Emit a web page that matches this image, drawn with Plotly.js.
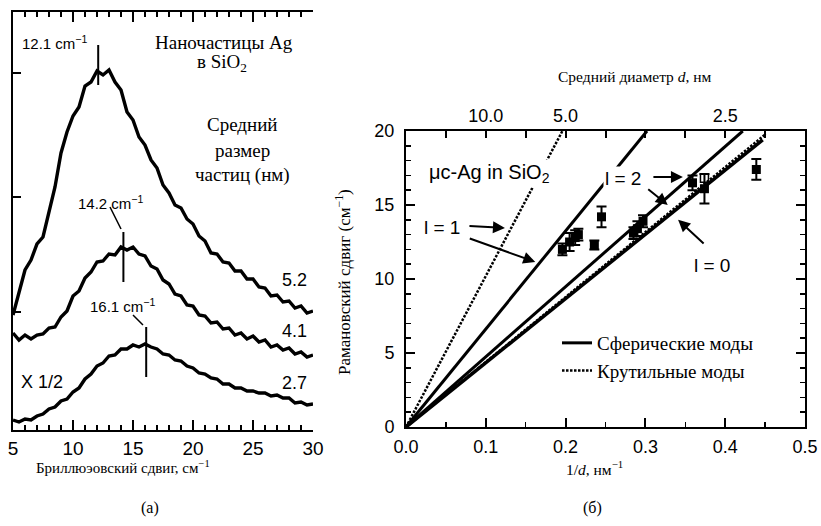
<!DOCTYPE html>
<html><head><meta charset="utf-8">
<script src="https://cdn.plot.ly/plotly-3.0.1.min.js"></script>
<style>html,body{margin:0;padding:0;background:#fff}#chart{width:821px;height:526px}</style>
</head><body><div id="chart"></div>
<script>
// ---------- panel (a): Brillouin spectra ----------
const shiftCm = [5,5.5,6,6.5,7,7.5,8,8.5,9,9.5,10,10.5,11,11.5,12,12.5,13,13.5,14,14.5,15,15.5,16,16.5,17,17.5,18,18.5,19,19.5,20,20.5,21,21.5,22,22.5,23,23.5,24,24.5,25,25.5,26,26.5,27,27.5,28,28.5,29,29.5,30];
const spec52 = [115,138,160,170,186,193,218,243,277,298,314,323,344,348,359,355,360,348,340,318,310,293,285,270,262,245,237,225,222,211,206,194,189,177,176,168,167,159,159,151,151,143,142,134,135,128,129,122,124,117,119];
const spec41 = [97,90,95,91,95,96,102,103,113,119,134,139,152,158,168,169,176,175,183,180,183,176,174,164,161,150,146,136,134,125,124,115,114,107,108,101,102,95,97,91,94,88,90,83,85,80,82,76,78,73,75];
const spec27 = [10,8,11,10,14,16,21,23,29,31,38,42,51,56,64,67,74,75,81,81,85,83,86,83,81,76,75,70,69,64,62,57,56,52,51,46,46,42,42,39,39,37,37,34,35,32,32,27,28,25,26];
const peakPositions = [12.1, 14.2, 16.1];
const peakLabels = ['12.1 cm<sup>−1</sup>', '14.2 cm<sup>−1</sup>', '16.1 cm<sup>−1</sup>'];
const sizeLabels = ['5.2', '4.1', '2.7'];

// ---------- panel (б): Raman shift vs 1/d ----------
const invD       = [0.196,0.205,0.212,0.216,0.236,0.245,0.285,0.290,0.297,0.359,0.374,0.439];
const ramanShift = [12.0, 12.5, 12.8, 13.0, 12.3, 14.2, 13.1, 13.4, 13.9, 16.5, 16.1, 17.4];
const ramanErr   = [0.4,  0.6,  0.5,  0.4,  0.3,  0.7,  0.4,  0.5,  0.4,  0.5,  1.0,  0.7];
const openInvD = [0.374];
const openShift = [16.8];
const torsL1X = [0, 0.196], torsL1Y = [0, 20];
const sphL1X  = [0, 0.302], sphL1Y  = [0, 20];
const sphL2X  = [0, 0.422], sphL2Y  = [0, 20];
const torsL2X = [0, 0.451], torsL2Y = [0, 19.8];
const sphL0X  = [0, 0.447], sphL0Y  = [0, 19.4];
const topTickVals = [0.05,0.1,0.15,0.2,0.25,0.3,0.35,0.4,0.45];
const topTickText = ['','10.0','','5.0','','','','2.5',''];

const W = 821, H = 526;
const P = x => x / W, Q = y => 1 - y / H;
const SANS = 'Liberation Sans, Arial, sans-serif';
const SERIF = 'Liberation Serif, Times New Roman, serif';
const K = '#000';

const specLine = {color: K, width: 3.4};
const dotLine = {color: K, width: 2.5, dash: '2.5px,1.5px'};
const traces = [
  {x: shiftCm, y: spec52, xaxis: 'x', yaxis: 'y', mode: 'lines', line: specLine, showlegend: false},
  {x: shiftCm, y: spec41, xaxis: 'x', yaxis: 'y', mode: 'lines', line: specLine, showlegend: false},
  {x: shiftCm, y: spec27, xaxis: 'x', yaxis: 'y', mode: 'lines', line: specLine, showlegend: false},
  {x: torsL1X, y: torsL1Y, xaxis: 'x2', yaxis: 'y2', mode: 'lines', line: dotLine, showlegend: false},
  {x: sphL1X, y: sphL1Y, xaxis: 'x2', yaxis: 'y2', mode: 'lines', line: {color: K, width: 3}, name: 'Сферические моды', showlegend: true},
  {x: sphL2X, y: sphL2Y, xaxis: 'x2', yaxis: 'y2', mode: 'lines', line: {color: K, width: 3}, showlegend: false},
  {x: sphL0X, y: sphL0Y, xaxis: 'x2', yaxis: 'y2', mode: 'lines', line: {color: K, width: 3.5}, showlegend: false},
  {x: torsL2X, y: torsL2Y, xaxis: 'x2', yaxis: 'y2', mode: 'lines', line: dotLine, name: 'Крутильные моды', showlegend: true},
  {x: invD, y: ramanShift, xaxis: 'x2', yaxis: 'y2', mode: 'markers', marker: {symbol: 'square', size: 9, color: K},
   error_y: {type: 'data', array: ramanErr, visible: true, color: K, thickness: 2, width: 5}, showlegend: false},
  {x: openInvD, y: openShift, xaxis: 'x3', yaxis: 'y2', mode: 'markers', marker: {symbol: 'square-open', size: 8, color: K, line: {width: 1.5}}, showlegend: false}
];

const shapes = [];
const markerTops = [385, 198, 103], markerBots = [345, 148, 53];
peakPositions.forEach((p, i) => {
  shapes.push({type: 'line', xref: 'x', yref: 'y', x0: p, x1: p, y0: markerBots[i], y1: markerTops[i], line: {color: K, width: 2}});
});
shapes.push({type: 'line', xref: 'paper', yref: 'paper', x0: P(110), y0: Q(207), x1: P(121), y1: Q(229), line: {color: K, width: 1.5}});
shapes.push({type: 'line', xref: 'paper', yref: 'paper', x0: P(133), y0: Q(315), x1: P(143), y1: Q(325), line: {color: K, width: 1.5}});

const ann = (text, x, y, font, extra) => Object.assign({text, x: P(x), y: Q(y), xref: 'paper', yref: 'paper', showarrow: false,
  xanchor: 'center', yanchor: 'middle', font: Object.assign({color: K}, font)}, extra || {});
const sans = s => ({family: SANS, size: s});
const serif = s => ({family: SERIF, size: s});

const annotations = [
  ann(peakLabels[0], 20, 42, sans(15), {xanchor: 'left'}),
  ann(peakLabels[1], 110, 202, sans(15)),
  ann(peakLabels[2], 122, 305, sans(15)),
  ann('Наночастицы Ag', 224, 42, serif(19)),
  ann('в SiO<sub>2</sub>', 222, 63, serif(19)),
  ann('Средний', 243, 125, serif(19)),
  ann('размер', 243, 150, serif(19)),
  ann('частиц (нм)', 243, 175, serif(19)),
  ann(sizeLabels[0], 294, 280, sans(18)),
  ann(sizeLabels[1], 294, 331, sans(18)),
  ann(sizeLabels[2], 294, 383, sans(18)),
  ann('X 1/2', 42, 382, sans(18)),
  ann('Бриллюэовский сдвиг, см<sup>−1</sup>', 123, 467, serif(15)),
  ann('(а)', 150, 508, serif(16)),
  ann('Средний диаметр <i>d</i>, нм', 635, 77, serif(15.5)),
  ann('Рамановский сдвиг (см<sup>−1</sup>)', 343, 282, serif(17), {textangle: -90}),
  ann('1/<i>d</i>, нм<sup>−1</sup>', 594, 468, serif(15.5)),
  ann('(б)', 592, 508, serif(16)),
  ann('μc-Ag in SiO<sub>2</sub>', 427, 173, sans(20), {xanchor: 'left', bgcolor: '#fff'}),
  ann('l = 2', 623, 178, sans(19), {bgcolor: '#fff'}),
  ann('l = 1', 442, 227, sans(19)),
  ann('l = 0', 712, 265, sans(19))
];
const arrow = (hx, hy, ax, ay) => ({text: '', x: hx, y: hy, xref: 'x2', yref: 'y2', showarrow: true, ax, ay,
  arrowhead: 2, arrowsize: 1.2, arrowwidth: 2, arrowcolor: K, standoff: 0});
annotations.push(arrow(0.347, 16.9, -31, 0));
annotations.push(arrow(0.328, 15.0, -21, -17));
annotations.push(arrow(0.124, 13.45, -37, -2));
annotations.push(arrow(0.162, 11.15, -67, -24));
annotations.push(arrow(0.341, 14.0, 27, 25));

const axBase = {showgrid: false, zeroline: false, showline: true, linecolor: K, linewidth: 2, ticks: 'inside',
  tickcolor: K, tickwidth: 2, tickfont: {family: SANS, size: 18, color: K}};
const minorA = {dtick: 1, ticklen: 5, tickwidth: 1.5, ticks: 'inside', tickcolor: K};

const layout = {
  width: W, height: H, margin: {l: 0, r: 0, t: 0, b: 0}, paper_bgcolor: '#fff', plot_bgcolor: '#fff',
  showlegend: true,
  legend: {x: P(557), y: Q(324), xanchor: 'left', yanchor: 'top', bgcolor: 'rgba(0,0,0,0)',
    font: {family: SERIF, size: 19, color: K}, tracegroupgap: 0},
  xaxis: Object.assign({}, axBase, {domain: [P(13), P(313)], anchor: 'y', range: [5, 30], tick0: 5, dtick: 5,
    ticklen: 10, mirror: 'ticks', minor: minorA, ticklabelstandoff: 0, tickfont: {family: SANS, size: 19, color: K}}),
  yaxis: Object.assign({}, axBase, {domain: [Q(430), Q(12)], anchor: 'x', range: [0, 418], tickvals: [118, 233, 357],
    ticklen: 8, showticklabels: false}),
  xaxis2: Object.assign({}, axBase, {domain: [P(406), P(805)], anchor: 'y2', range: [0, 0.5], dtick: 0.1, tickformat: '.1f',
    ticklen: 9, mirror: true, minor: {dtick: 0.05, ticklen: 5, tickwidth: 1.5, ticks: 'inside', tickcolor: K}, ticklabelstandoff: 2}),
  yaxis2: Object.assign({}, axBase, {domain: [Q(427), Q(131)], anchor: 'x2', range: [0, 20], dtick: 5,
    ticklen: 9, mirror: 'ticks', minor: {dtick: 1, ticklen: 5, tickwidth: 1.5, ticks: 'inside', tickcolor: K}, ticklabelstandoff: 6}),
  xaxis3: Object.assign({}, axBase, {overlaying: 'x2', side: 'top', anchor: 'y2', range: [0, 0.5], showline: false,
    tickvals: topTickVals, ticktext: topTickText, ticklen: 7, ticklabelstandoff: 4}),
  shapes, annotations
};

Plotly.newPlot('chart', traces, layout, {staticPlot: true, displayModeBar: false});
</script></body></html>
